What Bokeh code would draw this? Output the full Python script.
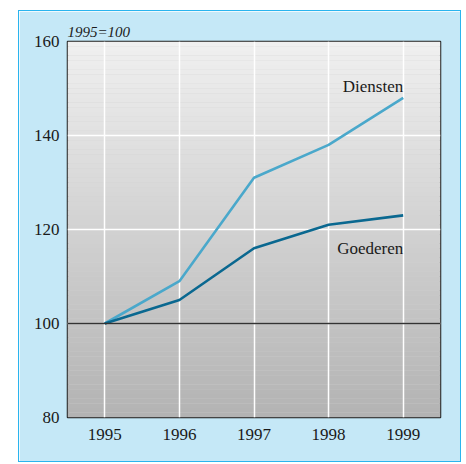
import numpy as np
from bokeh.plotting import figure
from bokeh.models import Span, Label, FixedTicker
from bokeh.embed import file_html
from bokeh.resources import INLINE

years = [1995, 1996, 1997, 1998, 1999]
diensten = [100, 109, 131, 138, 148]
goederen = [100, 105, 116, 121, 123]
y_ticks = [80, 100, 120, 140, 160]
base_label = "1995=100"
series_names = ["Diensten", "Goederen"]

FONT = "Liberation Serif"

p = figure(width=443, height=452, x_range=(1994.5, 1999.5), y_range=(80, 160),
           output_backend="svg", toolbar_location=None,
           min_border_left=48, min_border_right=22, min_border_top=30, min_border_bottom=46,
           border_fill_color="#c5e8f7", background_fill_color="#d0d0d0",
           outline_line_color="#1f1f1f", outline_line_width=1.5,
           styles={"border": "1px solid #2ab4ee", "position": "relative",
                   "left": "18px", "top": "10px"})

p.title.text = base_label
p.title.text_font = FONT
p.title.text_font_size = "15px"
p.title.text_font_style = "italic"
p.title.text_color = "#1a1a1a"
p.title.align = "left"
p.title.standoff = 3

# gradient background of the plot area
n = 80
edges = np.linspace(80, 160, n + 1)
t = (edges[:-1] + edges[1:]) / 2
frac = (t - 80) / 80
lo, hi = 0xb3, 0xf0
cols = ["#%02x%02x%02x" % ((int(round(lo + (hi - lo) * f)),) * 3) for f in frac]
p.quad(left=1994.5, right=1999.5, bottom=edges[:-1], top=edges[1:], fill_color=cols,
       line_color=None, level="image")

# grid
p.xgrid.grid_line_color = "white"
p.xgrid.grid_line_width = 1.5
p.ygrid.grid_line_color = "white"
p.ygrid.grid_line_width = 1.5
p.xaxis.ticker = FixedTicker(ticks=years)
p.yaxis.ticker = FixedTicker(ticks=y_ticks)
p.ygrid.ticker = FixedTicker(ticks=y_ticks)
p.xgrid.ticker = FixedTicker(ticks=years)

for ax in (p.xaxis[0], p.yaxis[0]):
    ax.axis_line_color = None
    ax.major_tick_line_color = None
    ax.minor_tick_line_color = None
    ax.major_label_text_font = FONT
    ax.major_label_text_font_size = "17px"
    ax.major_label_text_color = "#1a1a1a"
p.yaxis.major_label_standoff = 2
p.xaxis.major_label_standoff = 5

p.line(years, diensten, line_color="#4aa8cb", line_width=2.6)
p.line(years, goederen, line_color="#0a6890", line_width=2.6)

p.add_layout(Span(location=100, dimension="width", line_color="#333333", line_width=1.3))

p.add_layout(Label(x=years[-1], y=diensten[-1], text=series_names[0], text_font=FONT,
                   text_font_size="17px", text_align="right", text_baseline="alphabetic",
                   y_offset=11, text_color="#1a1a1a"))
p.add_layout(Label(x=years[-1], y=goederen[-1], text=series_names[1], text_font=FONT,
                   text_font_size="17px", text_align="right", text_baseline="alphabetic",
                   y_offset=-33, text_color="#1a1a1a"))

open("out.html", "w").write(file_html(p, INLINE))
